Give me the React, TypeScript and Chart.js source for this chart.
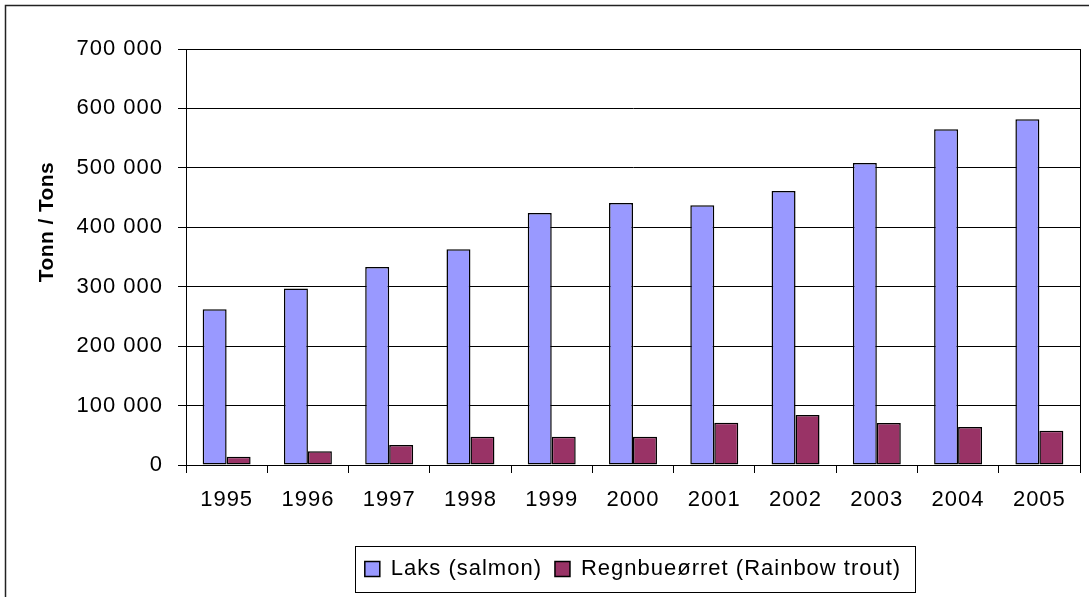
import React, { useEffect, useRef } from "react";
import { Chart, registerables } from "chart.js";

Chart.register(...registerables);

const years = ["1995", "1996", "1997", "1998", "1999", "2000", "2001", "2002", "2003", "2004", "2005"];
const salmon = [262000, 297000, 333000, 363000, 424000, 441000, 437000, 461000, 508000, 565000, 582000];
const trout = [14000, 23000, 33500, 47500, 47500, 47500, 71000, 84000, 70500, 64000, 57500];
const yTicksMax = 700000;
const yTicksStep = 100000;
const seriesNames = ["Laks (salmon)", "Regnbueørret (Rainbow trout)"];
const yTitle = "Tonn / Tons";

const FONT = "'Liberation Sans', Arial, sans-serif";

const fmt = (v: number) => String(v).replace(/\B(?=(\d{3})+(?!\d))/g, " ");

const spacingPlugin = {
  id: "spacing",
  beforeUpdate(chart: any) {
    chart.ctx.letterSpacing = "1px";
  },
  beforeDraw(chart: any) {
    chart.ctx.letterSpacing = "1px";
  },
};

const framePlugin = {
  id: "frame",
  afterDraw(chart: any) {
    const ctx = chart.ctx;
    const a = chart.chartArea;
    ctx.save();
    ctx.strokeStyle = "#000";
    ctx.lineWidth = 1;
    ctx.strokeRect(Math.round(a.left) + 0.5, Math.round(a.top) + 0.5, Math.round(a.right - a.left), Math.round(a.bottom - a.top));
    ctx.strokeStyle = "#222";
    ctx.lineWidth = 1.5;
    ctx.beginPath();
    ctx.moveTo(5.5, chart.height);
    ctx.lineTo(5.5, 5.5);
    ctx.lineTo(chart.width, 5.5);
    ctx.stroke();
    ctx.fillStyle = "#000";
    ctx.letterSpacing = "0.4px";
    ctx.font = `bold 21px ${FONT}`;
    ctx.textAlign = "center";
    ctx.textBaseline = "middle";
    ctx.translate(47, 222);
    ctx.rotate(-Math.PI / 2);
    ctx.fillText(yTitle, 0, 0);
    ctx.restore();
    const lg = chart.legend;
    if (lg && lg.legendHitBoxes && lg.legendHitBoxes.length) {
      const hb = lg.legendHitBoxes;
      const first = hb[0];
      const last = hb[hb.length - 1];
      const l = Math.round(first.left - 10) + 0.5;
      const r = Math.round(last.left + last.width + 14) + 0.5;
      const cy = first.top + first.height / 2;
      const t = Math.round(cy - 23) + 0.5;
      const b = Math.round(cy + 23) + 0.5;
      ctx.save();
      ctx.strokeStyle = "#000";
      ctx.lineWidth = 1;
      ctx.strokeRect(l, t, r - l, b - t);
      ctx.restore();
    }
  },
};

export default function App() {
  const ref = useRef<HTMLCanvasElement>(null);
  useEffect(() => {
    if (!ref.current) return;
    const chart = new Chart(ref.current, {
      type: "bar",
      data: {
        labels: years,
        datasets: [
          {
            label: seriesNames[0],
            data: salmon,
            backgroundColor: "#9999FF",
            borderColor: "#000",
            borderWidth: 1.5,
            borderSkipped: false,
          },
          {
            label: seriesNames[1],
            data: trout,
            backgroundColor: "#993366",
            borderColor: "#000",
            borderWidth: 1.5,
            borderSkipped: false,
          },
        ],
      },
      options: {
        animation: false,
        responsive: false,
        devicePixelRatio: 1,
        layout: { padding: { top: 49, right: 9, left: 0, bottom: 7 } },
        datasets: { bar: { barPercentage: 1, categoryPercentage: 0.59 } },
        plugins: {
          tooltip: { enabled: false },
          legend: {
            position: "bottom",
            fullSize: false,
            labels: {
              boxWidth: 15,
              boxHeight: 15,
              padding: 13,
              color: "#000",
              font: { family: FONT, size: 22 },
            },
          },
        },
        scales: {
          x: {
            grid: {
              offset: true,
              drawOnChartArea: false,
              drawTicks: true,
              tickLength: 8,
              color: "#000",
            },
            border: { color: "#000", width: 1 },
            ticks: {
              color: "#000",
              padding: 14,
              maxRotation: 0,
              font: { family: FONT, size: 22 },
            },
            afterFit: (s: any) => {
              s.height = 80;
            },
          },
          y: {
            min: 0,
            max: yTicksMax,
            grid: {
              color: "#000",
              lineWidth: 1,
              tickLength: 8,
              drawTicks: true,
            },
            border: { color: "#000", width: 1 },
            ticks: {
              stepSize: yTicksStep,
              color: "#000",
              padding: 15,
              font: { family: FONT, size: 22 },
              callback: (v: any) => fmt(Number(v)),
            },
            afterFit: (s: any) => {
              s.width = 186;
            },
          },
        },
      },
      plugins: [spacingPlugin, framePlugin],
    });
    return () => chart.destroy();
  }, []);
  return (
    <div style={{ position: "absolute", left: 0, top: 0, width: 1089, height: 597, background: "#fff" }}>
      <canvas ref={ref} width={1089} height={597} style={{ display: "block" }} />
    </div>
  );
}
